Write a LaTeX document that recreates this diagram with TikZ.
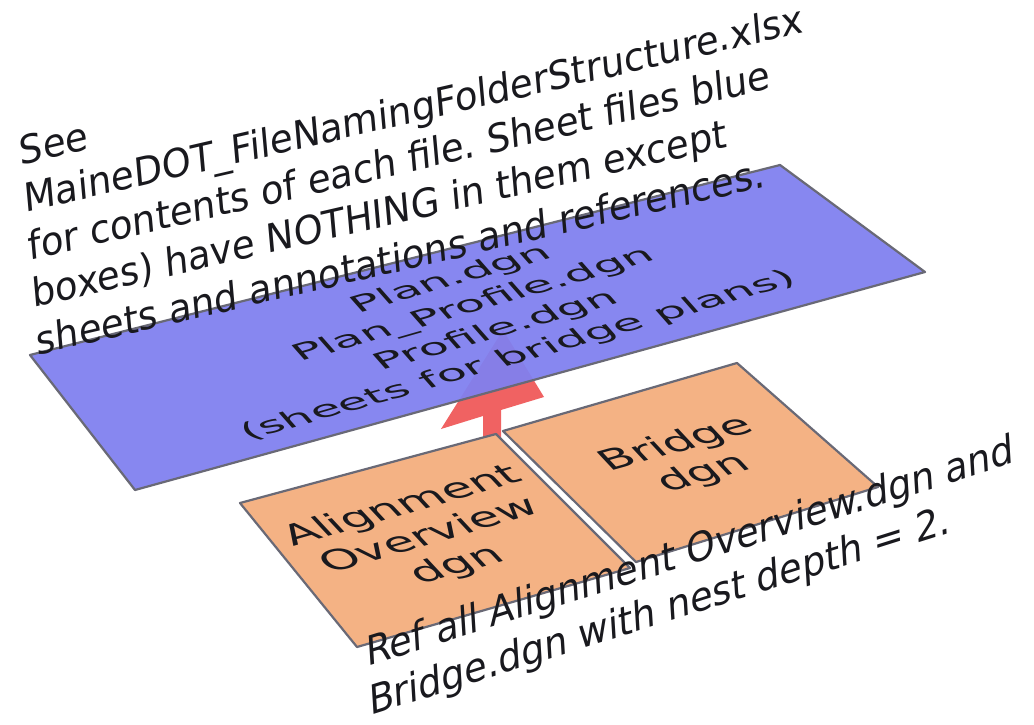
\documentclass[tikz,border=0pt]{standalone}
\usepackage{fontspec}
\setmainfont{DejaVu Sans}
\frenchspacing
\definecolor{planeblue}{RGB}{128,128,240}
\definecolor{boxorange}{RGB}{244,178,132}
\definecolor{edgegray}{RGB}{105,105,118}
\definecolor{arrowred}{RGB}{240,98,98}
\definecolor{inkblack}{RGB}{25,25,30}
\tikzset{
  plane/.style={fill=planeblue, fill opacity=0.94, draw=edgegray, draw opacity=1, line width=2.2pt, line join=round},
  filebox/.style={fill=boxorange, draw=edgegray, line width=2.2pt, line join=round},
  bigarrow/.style={fill=arrowred, draw=none},
  note/.style={inner sep=0pt, text=inkblack, font=\fontsize{37}{45}\selectfont, transform shape},
  flattext/.style={inner sep=0pt, text=inkblack, align=center, font=\fontsize{36}{43}\selectfont, transform shape},
  sheettext/.style={flattext, font=\fontsize{36}{46}\selectfont}
}
\begin{document}
\begin{tikzpicture}[x=1pt,y=-1pt]
\useasboundingbox (0,0) rectangle (1034,725);
\fill[white] (0,0) rectangle (1034,725);

% blue sheet plane corners
\coordinate (bL) at (30,355);
\coordinate (bT) at (780,165);
\coordinate (bR) at (925,272);
\coordinate (bB) at (135,490);
% alignment box corners
\coordinate (aL) at (240,503);
\coordinate (aT) at (496,434);
\coordinate (aR) at (630,568);
\coordinate (aB) at (357,647);
% bridge box corners
\coordinate (gL) at (503,431);
\coordinate (gT) at (737,363);
\coordinate (gR) at (878,487);
\coordinate (gB) at (636,562);

% red arrow from the alignment box up to the sheet plane
\coordinate (arrS1) at (483,441);
\coordinate (arrS2) at (501,439);
\coordinate (arrS3) at (501,410);
\coordinate (arrRB) at (544,397);
\coordinate (arrTip) at (503,330);
\coordinate (arrLB) at (441,429);
\coordinate (arrS4) at (483,416);
\fill[bigarrow] (arrS1) -- (arrS2) -- (arrS3) -- (arrRB) -- (arrTip) -- (arrLB) -- (arrS4) -- cycle;

% orange reference files
\draw[filebox] (aL) -- (aT) -- (aR) -- (aB) -- cycle;
\draw[filebox] (gL) -- (gT) -- (gR) -- (gB) -- cycle;

% blue sheet plane
\draw[plane] (bL) -- (bT) -- (bR) -- (bB) -- cycle;

% texts on the planes
\begin{scope}[shift={(485,318)}, cm={1.245,0.357,-0.49,0.555,(0,0)}]
\node[sheettext] (sheets) at (0,0) {Plan.dgn\\Plan\_Profile.dgn\\Profile.dgn\\(sheets for bridge plans)};
\end{scope}
\begin{scope}[shift={(430,536)}, cm={1.255,0.360,-0.64,0.686,(0,0)}]
\node[flattext] (align) at (0,0) {Alignment\\Overview\\dgn};
\end{scope}
\begin{scope}[shift={(690,459)}, cm={1.25,0.347,-0.64,0.686,(0,0)}]
\node[flattext] (bridge) at (0,0) {Bridge\\dgn};
\end{scope}

% notes
\begin{scope}[shift={(18,136)}, cm={0.99,0.229,-0.094,1.056,(0,0)}]
\node[note, anchor=north west, align=left] (topnote) at (0,0) {See\\MaineDOT\_FileNamingFolderStructure.xlsx\\for contents of each file. Sheet files blue\\boxes) have NOTHING in them except\\sheets and annotations and references.};
\end{scope}
\begin{scope}[shift={(365,636)}, cm={0.978,0.308,-0.067,1.088,(0,0)}]
\node[note, anchor=north west, align=left] (refnote) at (0,0) {Ref all Alignment Overview.dgn and\\Bridge.dgn with nest depth = 2.};
\end{scope}
\end{tikzpicture}
\end{document}
